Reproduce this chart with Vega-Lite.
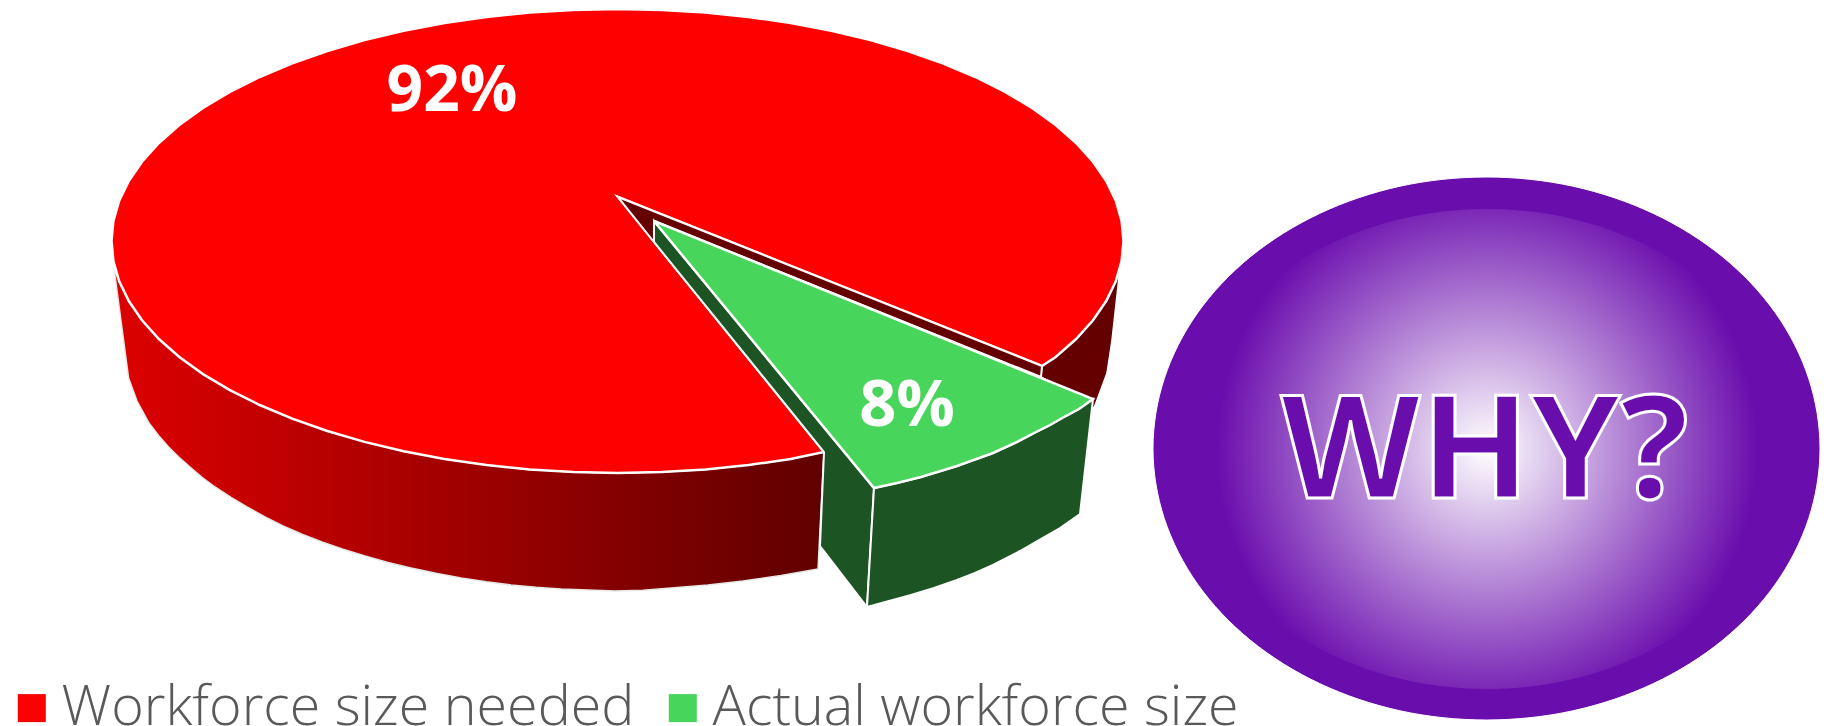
{"$schema":"https://vega.github.io/schema/vega-lite/v6.json","width":1831,"height":726,"padding":0,"autosize":{"type":"fit","contains":"padding"},"background":"white",
"config":{"view":{"stroke":null}},
"datasets":{
"wall":[{"i":0,"x":1042,"y":366},{"i":1,"x":1055.7,"y":357},{"i":2,"x":1076.1,"y":339},{"i":3,"x":1093,"y":320.3},{"i":4,"x":1106.2,"y":301},{"i":5,"x":1115.8,"y":281.3},{"i":6,"x":1120,"y":268},{"i":7,"x":1112,"y":340},{"i":8,"x":1109,"y":360},{"i":9,"x":1107,"y":373},{"i":10,"x":1100,"y":392},{"i":11,"x":1094,"y":408},{"i":12,"x":1041,"y":377}],
"redSide":[{"i":0,"x":114,"y":268},{"i":1,"x":119.2,"y":281.3},{"i":2,"x":128.8,"y":301},{"i":3,"x":142,"y":320.3},{"i":4,"x":158.9,"y":339},{"i":5,"x":179.3,"y":357},{"i":6,"x":203,"y":374.1},{"i":7,"x":229.9,"y":390.1},{"i":8,"x":259.7,"y":405},{"i":9,"x":292.3,"y":418.7},{"i":10,"x":327.3,"y":431},{"i":11,"x":364.5,"y":441.9},{"i":12,"x":403.7,"y":451.3},{"i":13,"x":444.4,"y":459},{"i":14,"x":486.5,"y":465.1},{"i":15,"x":529.6,"y":469.5},{"i":16,"x":573.4,"y":472.1},{"i":17,"x":617.5,"y":473},{"i":18,"x":661.6,"y":472.1},{"i":19,"x":705.4,"y":469.5},{"i":20,"x":748.5,"y":465.1},{"i":21,"x":790.6,"y":459},{"i":22,"x":824,"y":452},{"i":23,"x":818,"y":569},{"i":24,"x":781,"y":575.5},{"i":25,"x":743,"y":581},{"i":26,"x":708,"y":585},{"i":27,"x":671,"y":588},{"i":28,"x":643,"y":590.3},{"i":29,"x":615,"y":591},{"i":30,"x":561,"y":589},{"i":31,"x":536,"y":587.3},{"i":32,"x":511,"y":585},{"i":33,"x":486,"y":581.8},{"i":34,"x":461,"y":578},{"i":35,"x":436,"y":573.3},{"i":36,"x":411,"y":568},{"i":37,"x":388,"y":562.4},{"i":38,"x":365,"y":556},{"i":39,"x":343,"y":549.3},{"i":40,"x":322,"y":542},{"i":41,"x":302,"y":534.3},{"i":42,"x":283,"y":526},{"i":43,"x":265,"y":516.8},{"i":44,"x":247,"y":507},{"i":45,"x":231,"y":497.3},{"i":46,"x":215,"y":487},{"i":47,"x":202,"y":477.3},{"i":48,"x":190,"y":467},{"i":49,"x":179,"y":457.3},{"i":50,"x":168.6,"y":447},{"i":51,"x":158.5,"y":435.5},{"i":52,"x":149,"y":423},{"i":53,"x":137,"y":401},{"i":54,"x":128.6,"y":378}],
"top":[{"series":"Workforce size needed","i":0,"x":1042,"y":366},{"series":"Workforce size needed","i":1,"x":1055.7,"y":357},{"series":"Workforce size needed","i":2,"x":1076.1,"y":339},{"series":"Workforce size needed","i":3,"x":1093,"y":320.3},{"series":"Workforce size needed","i":4,"x":1106.2,"y":301},{"series":"Workforce size needed","i":5,"x":1115.8,"y":281.3},{"series":"Workforce size needed","i":6,"x":1121.6,"y":261.2},{"series":"Workforce size needed","i":7,"x":1123.5,"y":241},{"series":"Workforce size needed","i":8,"x":1121.6,"y":220.8},{"series":"Workforce size needed","i":9,"x":1115.8,"y":200.7},{"series":"Workforce size needed","i":10,"x":1106.2,"y":181},{"series":"Workforce size needed","i":11,"x":1093,"y":161.7},{"series":"Workforce size needed","i":12,"x":1076.1,"y":143},{"series":"Workforce size needed","i":13,"x":1055.7,"y":125},{"series":"Workforce size needed","i":14,"x":1032,"y":107.9},{"series":"Workforce size needed","i":15,"x":1005.1,"y":91.9},{"series":"Workforce size needed","i":16,"x":975.3,"y":77},{"series":"Workforce size needed","i":17,"x":942.7,"y":63.3},{"series":"Workforce size needed","i":18,"x":907.7,"y":51},{"series":"Workforce size needed","i":19,"x":870.5,"y":40.1},{"series":"Workforce size needed","i":20,"x":831.3,"y":30.7},{"series":"Workforce size needed","i":21,"x":790.6,"y":23},{"series":"Workforce size needed","i":22,"x":748.5,"y":16.9},{"series":"Workforce size needed","i":23,"x":705.4,"y":12.5},{"series":"Workforce size needed","i":24,"x":661.6,"y":9.9},{"series":"Workforce size needed","i":25,"x":617.5,"y":9},{"series":"Workforce size needed","i":26,"x":573.4,"y":9.9},{"series":"Workforce size needed","i":27,"x":529.6,"y":12.5},{"series":"Workforce size needed","i":28,"x":486.5,"y":16.9},{"series":"Workforce size needed","i":29,"x":444.4,"y":23},{"series":"Workforce size needed","i":30,"x":403.7,"y":30.7},{"series":"Workforce size needed","i":31,"x":364.5,"y":40.1},{"series":"Workforce size needed","i":32,"x":327.3,"y":51},{"series":"Workforce size needed","i":33,"x":292.3,"y":63.3},{"series":"Workforce size needed","i":34,"x":259.7,"y":77},{"series":"Workforce size needed","i":35,"x":229.9,"y":91.9},{"series":"Workforce size needed","i":36,"x":203,"y":107.9},{"series":"Workforce size needed","i":37,"x":179.3,"y":125},{"series":"Workforce size needed","i":38,"x":158.9,"y":143},{"series":"Workforce size needed","i":39,"x":142,"y":161.7},{"series":"Workforce size needed","i":40,"x":128.8,"y":181},{"series":"Workforce size needed","i":41,"x":119.2,"y":200.7},{"series":"Workforce size needed","i":42,"x":113.4,"y":220.8},{"series":"Workforce size needed","i":43,"x":111.5,"y":241},{"series":"Workforce size needed","i":44,"x":113.4,"y":261.2},{"series":"Workforce size needed","i":45,"x":119.2,"y":281.3},{"series":"Workforce size needed","i":46,"x":128.8,"y":301},{"series":"Workforce size needed","i":47,"x":142,"y":320.3},{"series":"Workforce size needed","i":48,"x":158.9,"y":339},{"series":"Workforce size needed","i":49,"x":179.3,"y":357},{"series":"Workforce size needed","i":50,"x":203,"y":374.1},{"series":"Workforce size needed","i":51,"x":229.9,"y":390.1},{"series":"Workforce size needed","i":52,"x":259.7,"y":405},{"series":"Workforce size needed","i":53,"x":292.3,"y":418.7},{"series":"Workforce size needed","i":54,"x":327.3,"y":431},{"series":"Workforce size needed","i":55,"x":364.5,"y":441.9},{"series":"Workforce size needed","i":56,"x":403.7,"y":451.3},{"series":"Workforce size needed","i":57,"x":444.4,"y":459},{"series":"Workforce size needed","i":58,"x":486.5,"y":465.1},{"series":"Workforce size needed","i":59,"x":529.6,"y":469.5},{"series":"Workforce size needed","i":60,"x":573.4,"y":472.1},{"series":"Workforce size needed","i":61,"x":617.5,"y":473},{"series":"Workforce size needed","i":62,"x":661.6,"y":472.1},{"series":"Workforce size needed","i":63,"x":705.4,"y":469.5},{"series":"Workforce size needed","i":64,"x":748.5,"y":465.1},{"series":"Workforce size needed","i":65,"x":790.6,"y":459},{"series":"Workforce size needed","i":66,"x":824,"y":452},{"series":"Workforce size needed","i":67,"x":618,"y":197}],
"wedge":[{"i":0,"x":618,"y":197},{"i":1,"x":1042,"y":366},{"i":2,"x":1041,"y":377},{"i":3,"x":654,"y":221},{"i":4,"x":654,"y":242}],
"greenWall":[{"i":0,"x":654,"y":221},{"i":1,"x":874,"y":488},{"i":2,"x":867,"y":607},{"i":3,"x":820,"y":546},{"i":4,"x":824,"y":452},{"i":5,"x":654,"y":242}],
"greenFront":[{"i":0,"x":874,"y":488},{"i":1,"x":897,"y":483},{"i":2,"x":921,"y":477},{"i":3,"x":957,"y":466},{"i":4,"x":993,"y":453},{"i":5,"x":1015,"y":443},{"i":6,"x":1036,"y":432},{"i":7,"x":1050,"y":425},{"i":8,"x":1064,"y":417},{"i":9,"x":1079,"y":409},{"i":10,"x":1093,"y":399},{"i":11,"x":1080,"y":514},{"i":12,"x":1060,"y":528},{"i":13,"x":1039,"y":540},{"i":14,"x":1020,"y":551},{"i":15,"x":993,"y":565},{"i":16,"x":975,"y":573},{"i":17,"x":957,"y":580},{"i":18,"x":934,"y":588},{"i":19,"x":911,"y":595},{"i":20,"x":889,"y":601},{"i":21,"x":867,"y":607}],
"greenTop":[{"series":"Actual workforce size","i":0,"x":654,"y":221},{"series":"Actual workforce size","i":1,"x":1093,"y":399},{"series":"Actual workforce size","i":2,"x":1079,"y":409},{"series":"Actual workforce size","i":3,"x":1064,"y":417},{"series":"Actual workforce size","i":4,"x":1050,"y":425},{"series":"Actual workforce size","i":5,"x":1036,"y":432},{"series":"Actual workforce size","i":6,"x":1015,"y":443},{"series":"Actual workforce size","i":7,"x":993,"y":453},{"series":"Actual workforce size","i":8,"x":957,"y":466},{"series":"Actual workforce size","i":9,"x":921,"y":477},{"series":"Actual workforce size","i":10,"x":897,"y":483},{"series":"Actual workforce size","i":11,"x":874,"y":488}],
"outer":[{"i":0,"x":1820,"y":448.5},{"i":1,"x":1808.6,"y":518.8},{"i":2,"x":1775.3,"y":584.3},{"i":3,"x":1722.3,"y":640.5},{"i":4,"x":1653.3,"y":683.6},{"i":5,"x":1572.9,"y":710.8},{"i":6,"x":1486.5,"y":720},{"i":7,"x":1400.1,"y":710.8},{"i":8,"x":1319.7,"y":683.6},{"i":9,"x":1250.7,"y":640.5},{"i":10,"x":1197.7,"y":584.3},{"i":11,"x":1164.4,"y":518.8},{"i":12,"x":1153,"y":448.5},{"i":13,"x":1164.4,"y":378.2},{"i":14,"x":1197.7,"y":312.7},{"i":15,"x":1250.7,"y":256.5},{"i":16,"x":1319.7,"y":213.4},{"i":17,"x":1400.1,"y":186.2},{"i":18,"x":1486.5,"y":177},{"i":19,"x":1572.9,"y":186.2},{"i":20,"x":1653.3,"y":213.4},{"i":21,"x":1722.3,"y":256.5},{"i":22,"x":1775.3,"y":312.7},{"i":23,"x":1808.6,"y":378.2}],
"inner":[{"i":0,"x":1789,"y":449},{"i":1,"x":1778.7,"y":511.2},{"i":2,"x":1748.5,"y":569},{"i":3,"x":1700.5,"y":618.7},{"i":4,"x":1638,"y":656.8},{"i":5,"x":1565.2,"y":680.8},{"i":6,"x":1487,"y":689},{"i":7,"x":1408.8,"y":680.8},{"i":8,"x":1336,"y":656.8},{"i":9,"x":1273.5,"y":618.7},{"i":10,"x":1225.5,"y":569},{"i":11,"x":1195.3,"y":511.2},{"i":12,"x":1185,"y":449},{"i":13,"x":1195.3,"y":386.8},{"i":14,"x":1225.5,"y":329},{"i":15,"x":1273.5,"y":279.3},{"i":16,"x":1336,"y":241.2},{"i":17,"x":1408.8,"y":217.2},{"i":18,"x":1487,"y":209},{"i":19,"x":1565.2,"y":217.2},{"i":20,"x":1638,"y":241.2},{"i":21,"x":1700.5,"y":279.3},{"i":22,"x":1748.5,"y":329},{"i":23,"x":1778.7,"y":386.8}]
},
"encoding":{
"x":{"field":"x","type":"quantitative","scale":{"domain":[0,1831],"nice":false,"zero":false},"axis":null},
"y":{"field":"y","type":"quantitative","scale":{"domain":[726,0],"nice":false,"zero":false},"axis":null},
"order":{"field":"i","type":"quantitative"}
},
"layer":[
{"data":{"name":"wall"},"mark":{"type":"line","interpolate":"linear-closed","fill":"#640000","stroke":"#ffffff","strokeWidth":1.5}},
{"data":{"name":"redSide"},"mark":{"type":"line","interpolate":"linear-closed","stroke":"#e8e8e8","strokeWidth":1.5,"fill":{"gradient":"linear","x1":0,"y1":0,"x2":1,"y2":0,"stops":[{"offset":0,"color":"#dd0000"},{"offset":1,"color":"#600000"}]}}},
{"data":{"name":"top"},"mark":{"type":"line","interpolate":"linear-closed","stroke":"#ffffff","strokeWidth":2.5},"encoding":{"fill":{"field":"series","type":"nominal","scale":{"domain":["Workforce size needed","Actual workforce size"],"range":["#ff0000","#48d55c"]},"legend":{"title":null,"orient":"none","legendX":4,"legendY":680,"direction":"horizontal","columns":2,"columnPadding":20,"symbolType":"square","symbolSize":784,"symbolStrokeWidth":0,"labelFontSize":55.6,"labelFontWeight":300,"labelFont":"Open Sans","labelColor":"#595959","labelLimit":800,"labelOffset":2}}}},
{"data":{"name":"wedge"},"mark":{"type":"line","interpolate":"linear-closed","fill":"#640000","stroke":"#ffffff","strokeWidth":2}},
{"data":{"name":"greenWall"},"mark":{"type":"line","interpolate":"linear-closed","fill":"#1c5423","stroke":"#ffffff","strokeWidth":2}},
{"data":{"name":"greenFront"},"mark":{"type":"line","interpolate":"linear-closed","fill":"#1c5423","stroke":"#ffffff","strokeWidth":2}},
{"data":{"name":"greenTop"},"mark":{"type":"line","interpolate":"linear-closed","stroke":"#ffffff","strokeWidth":2.5},"encoding":{"fill":{"field":"series","type":"nominal"}}},
{"data":{"name":"outer"},"mark":{"type":"line","interpolate":"cardinal-closed","fill":"#6a0dad","stroke":"#ffffff","strokeWidth":1}},
{"data":{"name":"inner"},"mark":{"type":"line","interpolate":"cardinal-closed","strokeWidth":0,"stroke":null,"fill":{"gradient":"radial","x1":0.5,"y1":0.5,"x2":0.5,"y2":0.5,"r1":0,"r2":0.447,"stops":[{"offset":0,"color":"#ffffff"},{"offset":1,"color":"#6a0dad"}]}}},
{"data":{"values":[{"label":"92%","x":452,"y":111}]},"mark":{"type":"text","font":"Open Sans","fontWeight":"bold","fontSize":64,"fill":"#ffffff","align":"center","baseline":"alphabetic"},"encoding":{"text":{"field":"label"},"order":null}},
{"data":{"values":[{"label":"8%","x":907,"y":426}]},"mark":{"type":"text","font":"Open Sans","fontWeight":"bold","fontSize":65,"fill":"#ffffff","align":"center","baseline":"alphabetic"},"encoding":{"text":{"field":"label"},"order":null}},
{"data":{"values":[{"label":"WHY?","x":1485,"y":498}]},"mark":{"type":"text","font":"Open Sans","fontWeight":"bold","fontSize":144,"fill":"#6a0dad","stroke":"#ffffff","strokeWidth":3,"align":"center","baseline":"alphabetic"},"encoding":{"text":{"field":"label"},"order":null}}
]}
